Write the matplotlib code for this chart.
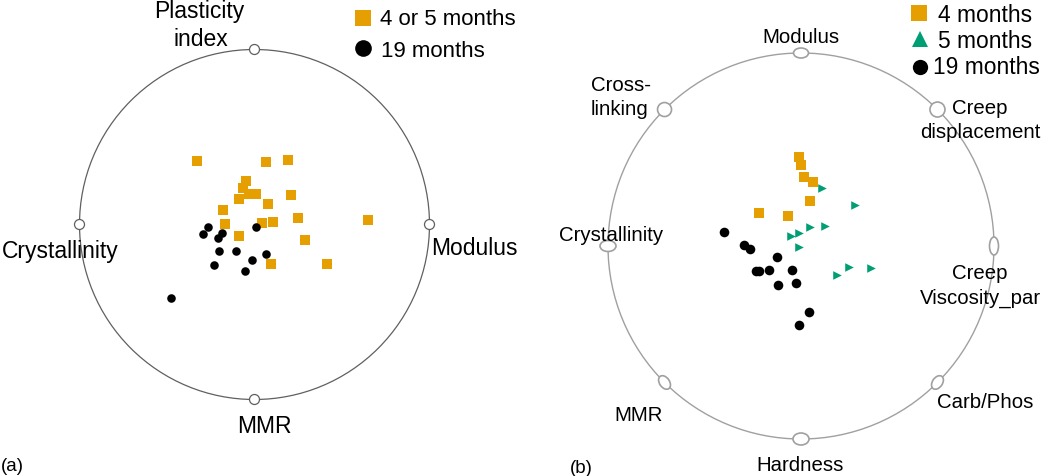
import matplotlib.pyplot as plt
import numpy as np
from matplotlib.patches import Circle, Ellipse

plt.rcParams['font.family'] = ['Liberation Sans', 'DejaVu Sans']

W, H = 1050, 477
ORANGE = '#E69F00'
GREEN = '#009E73'

# panel (a): radviz positions (unit circle)
a_anchors = ['Plasticity index', 'Modulus', 'MMR', 'Crystallinity']
a_angles = [90, 0, -90, 180]
a_young_x = [-0.327, 0.065, 0.190, -0.047, -0.065, -0.030, 0.011, -0.086, 0.076, 0.210,
             -0.179, -0.167, 0.042, 0.103, 0.247, 0.651, -0.086, 0.287, 0.093, 0.417]
a_young_y = [0.365, 0.359, 0.370, 0.247, 0.210, 0.174, 0.174, 0.144, 0.115, 0.170,
             0.085, 0.001, 0.009, 0.013, 0.037, 0.024, -0.064, -0.087, -0.226, -0.226]
a_old_x = [-0.267, -0.295, -0.183, -0.211, 0.011, -0.200, -0.103, 0.065, -0.015, -0.230, -0.055, -0.478]
a_old_y = [-0.014, -0.054, -0.047, -0.079, -0.013, -0.151, -0.151, -0.170, -0.201, -0.233, -0.264, -0.418]

# panel (b)
b_anchors = ['Modulus', 'Creep displacement', 'Creep Viscosity_par', 'Carb/Phos',
             'Hardness', 'MMR', 'Crystallinity', 'Cross-linking']
b_angles = [90, 45, 0, -45, -90, -135, 180, 135]
b_4m_x = [-0.012, 0.000, 0.016, 0.061, 0.045, -0.219, -0.067]
b_4m_y = [0.460, 0.420, 0.359, 0.330, 0.232, 0.171, 0.155]
b_5m_x = [0.107, 0.280, -0.053, -0.010, 0.045, 0.124, -0.010, 0.185, 0.249, 0.361]
b_5m_y = [0.299, 0.212, 0.052, 0.066, 0.097, 0.102, -0.004, -0.149, -0.107, -0.114]
b_19m_x = [-0.399, -0.294, -0.263, -0.126, -0.235, -0.216, -0.164, -0.048, -0.119, -0.027, 0.040, -0.009]
b_19m_y = [0.071, 0.005, -0.016, -0.059, -0.128, -0.131, -0.123, -0.123, -0.202, -0.193, -0.344, -0.408]

fig = plt.figure(figsize=(W / 100, H / 100), dpi=100)


def make_ax(x0, x1, cx, cy, r):
    # axes spanning pixel columns x0..x1, full height, unit = r pixels
    ax = fig.add_axes([x0 / W, 0, (x1 - x0) / W, 1])
    ax.set_xlim((x0 - cx) / r, (x1 - cx) / r)
    ax.set_ylim((cy - H) / r, cy / r)
    ax.axis('off')
    return ax


def ftext(x, y, s, size, ha='center'):
    fig.text(x / W, 1 - y / H, s, fontsize=size, ha=ha, va='baseline')


# ---- (a)
ra = 175
axa = make_ax(0, 520, 254.5, 225.5, ra)
axa.add_patch(Circle((0, 0), 1, fill=False, ec='#606060', lw=0.9))
for ang in a_angles:
    t = np.deg2rad(ang)
    axa.add_patch(Ellipse((np.cos(t), np.sin(t)), 10 / ra, 10 / ra, fc='white', ec='#606060', lw=0.9, zorder=3))
axa.scatter(a_young_x, a_young_y, marker='s', s=44, c=ORANGE, lw=0, zorder=4)
axa.scatter(a_old_x, a_old_y, marker='o', s=38, c='black', lw=0, zorder=4)

ftext(199, 18, 'Plasticity', 16.5)
ftext(201, 46, 'index', 16.5)
ftext(60, 258, 'Crystallinity', 16.5)
ftext(474, 255, 'Modulus', 16.5)
ftext(264, 433, 'MMR', 16.5)
ftext(1, 471, '(a)', 13.5, ha='left')

fig.lines.append(plt.Line2D([362.5 / W], [1 - 18.5 / H], marker='s', ms=12, color=ORANGE, mew=0, transform=fig.transFigure))
fig.lines.append(plt.Line2D([362.5 / W], [1 - 49 / H], marker='o', ms=12, color='black', mew=0, transform=fig.transFigure))
ftext(380, 25, '4 or 5 months', 16, ha='left')
ftext(381, 57, '19 months', 16, ha='left')

# ---- (b)
rb = 193
axb = make_ax(520, 1050, 801, 247, rb)
axb.add_patch(Circle((0, 0), 1, fill=False, ec='#a0a0a0', lw=1.0))
b_shapes = [(15, 10, 0), (15, 15, 0), (9, 18, 0), (15, 10, 55),
            (16, 12, 0), (15, 10, -55), (16, 11, 0), (14, 14, 0)]
for ang, (ew, eh, rot) in zip(b_angles, b_shapes):
    t = np.deg2rad(ang)
    axb.add_patch(Ellipse((np.cos(t), np.sin(t)), ew / rb, eh / rb, angle=rot,
                          fc='white', ec='#a0a0a0', lw=1.2, zorder=3))
axb.scatter(b_4m_x, b_4m_y, marker='s', s=48, c=ORANGE, lw=0, zorder=4)
axb.scatter(b_5m_x, b_5m_y, marker='>', s=38, c=GREEN, lw=0, zorder=4)
axb.scatter(b_19m_x, b_19m_y, marker='o', s=48, c='black', lw=0, zorder=4)

ftext(801, 43, 'Modulus', 14.7)
ftext(591, 91, 'Cross-', 14.7, ha='left')
ftext(591, 115, 'linking', 14.7, ha='left')
ftext(980, 114, 'Creep', 14.7)
ftext(980, 138, 'displacement', 14.7)
ftext(611, 241, 'Crystallinity', 14.7)
ftext(980, 279, 'Creep', 14.7)
ftext(980, 304, 'Viscosity_par', 14.7)
ftext(985, 408, 'Carb/Phos', 14.7)
ftext(639, 421, 'MMR', 14.7)
ftext(800, 471, 'Hardness', 14.7)
ftext(570, 473, '(b)', 13.5, ha='left')

fig.lines.append(plt.Line2D([919 / W], [1 - 14 / H], marker='s', ms=11, color=ORANGE, mew=0, transform=fig.transFigure))
fig.lines.append(plt.Line2D([920 / W], [1 - 40 / H], marker='^', ms=11.5, color=GREEN, mew=0, transform=fig.transFigure))
fig.lines.append(plt.Line2D([920 / W], [1 - 68 / H], marker='o', ms=11, color='black', mew=0, transform=fig.transFigure))
ftext(938, 22, '4 months', 16.4, ha='left')
ftext(938, 48, '5 months', 16.4, ha='left')
ftext(933, 74, '19 months', 16.4, ha='left')

fig.savefig('out.png', dpi=100)
